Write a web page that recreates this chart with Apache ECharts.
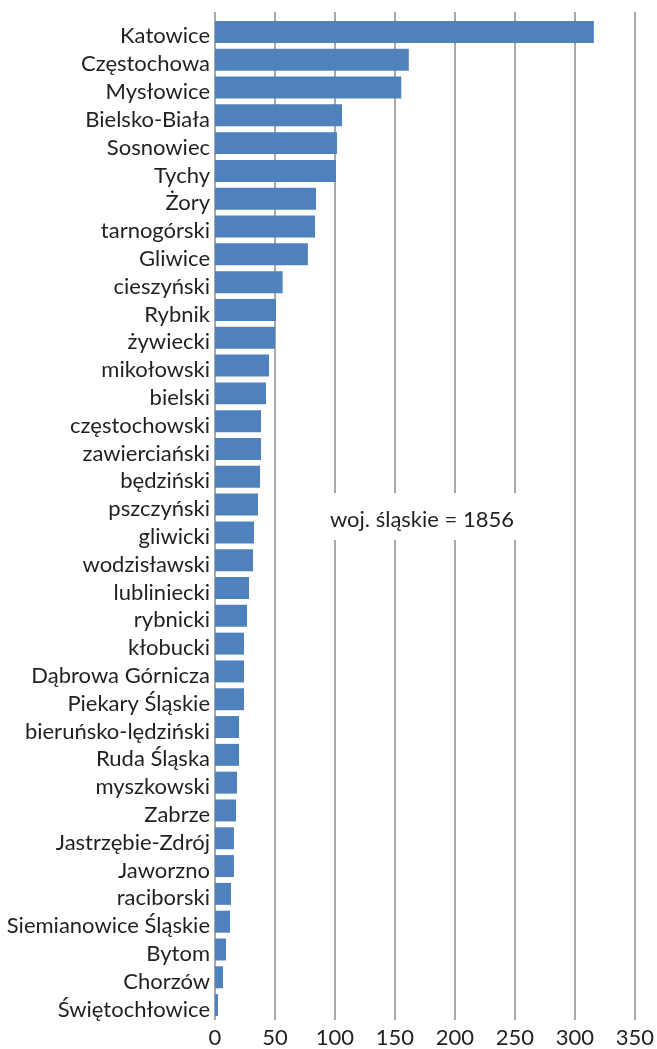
<!DOCTYPE html>
<html>
<head>
<meta charset="utf-8">
<script src="https://cdn.jsdelivr.net/npm/echarts@6/dist/echarts.min.js"></script>
<style>html,body{margin:0;padding:0;background:#fff;}#c{width:657px;height:1049px;}</style>
</head>
<body>
<div id="c"></div>
<script>
const categories = ["Katowice","Częstochowa","Mysłowice","Bielsko-Biała","Sosnowiec","Tychy","Żory","tarnogórski","Gliwice","cieszyński","Rybnik","żywiecki","mikołowski","bielski","częstochowski","zawierciański","będziński","pszczyński","gliwicki","wodzisławski","lubliniecki","rybnicki","kłobucki","Dąbrowa Górnicza","Piekary Śląskie","bieruńsko-lędziński","Ruda Śląska","myszkowski","Zabrze","Jastrzębie-Zdrój","Jaworzno","raciborski","Siemianowice Śląskie","Bytom","Chorzów","Świętochłowice"];
const values = [312,159.6,153.4,104.6,100.5,99.6,83.2,82.4,76.5,55.7,50.2,49.4,44.5,42,37.9,37.9,37.1,35.4,32.1,31.3,28,26.4,23.9,23.9,23.9,19.8,19.8,18.1,17.3,15.6,15.6,13.2,12.4,9.1,6.6,2.5];
const xTicks = [0,50,100,150,200,250,300,350];
const annotation = "woj. śląskie = 1856";

const FONT = "Lato";
const chart = echarts.init(document.getElementById('c'), null, {renderer:'canvas'});
chart.setOption({
  animation:false,
  textStyle:{fontFamily:FONT},
  grid:[
    {left:215, right:17, top:12, height:1010},
    {left:215, right:17, top:18, height:1001}
  ],
  xAxis:[
    {gridIndex:0, type:'value', min:xTicks[0], max:xTicks[xTicks.length-1], interval:50,
     axisLine:{show:false}, axisTick:{show:false},
     axisLabel:{fontSize:22, color:'#231f20', margin:7, fontFamily:FONT},
     splitLine:{show:true, lineStyle:{color:'#a8a8a8', width:2}}},
    {gridIndex:1, type:'value', min:xTicks[0], max:xTicks[xTicks.length-1], interval:50,
     axisLine:{show:false}, axisTick:{show:false}, axisLabel:{show:false}, splitLine:{show:false}}
  ],
  yAxis:[
    {gridIndex:0, type:'value', min:0, max:1, show:false},
    {gridIndex:1, type:'category', data:categories, inverse:true,
     axisLine:{show:false}, axisTick:{show:false},
     axisLabel:{fontSize:22, color:'#231f20', margin:5, fontFamily:FONT, interval:0, hideOverlap:false,
       formatter:function(v){return '{a|'+v+'}';},
       rich:{a:{fontSize:22, fontFamily:FONT, color:'#231f20', padding:[9,0,0,0]}}}}
  ],
  series:[
    {type:'bar', xAxisIndex:1, yAxisIndex:1, data:values, barCategoryGap:'21%',
     itemStyle:{color:'#4f81bd'}}
  ],
  graphic:[
    {type:'rect', z:100, shape:{x:320, y:493, width:205, height:47}, style:{fill:'#fff'}},
    {type:'text', z:101, x:422, y:520, style:{text:annotation, font:'22px '+FONT, fill:'#231f20', align:'center', verticalAlign:'middle'}}
  ]
});
</script>
</body>
</html>
